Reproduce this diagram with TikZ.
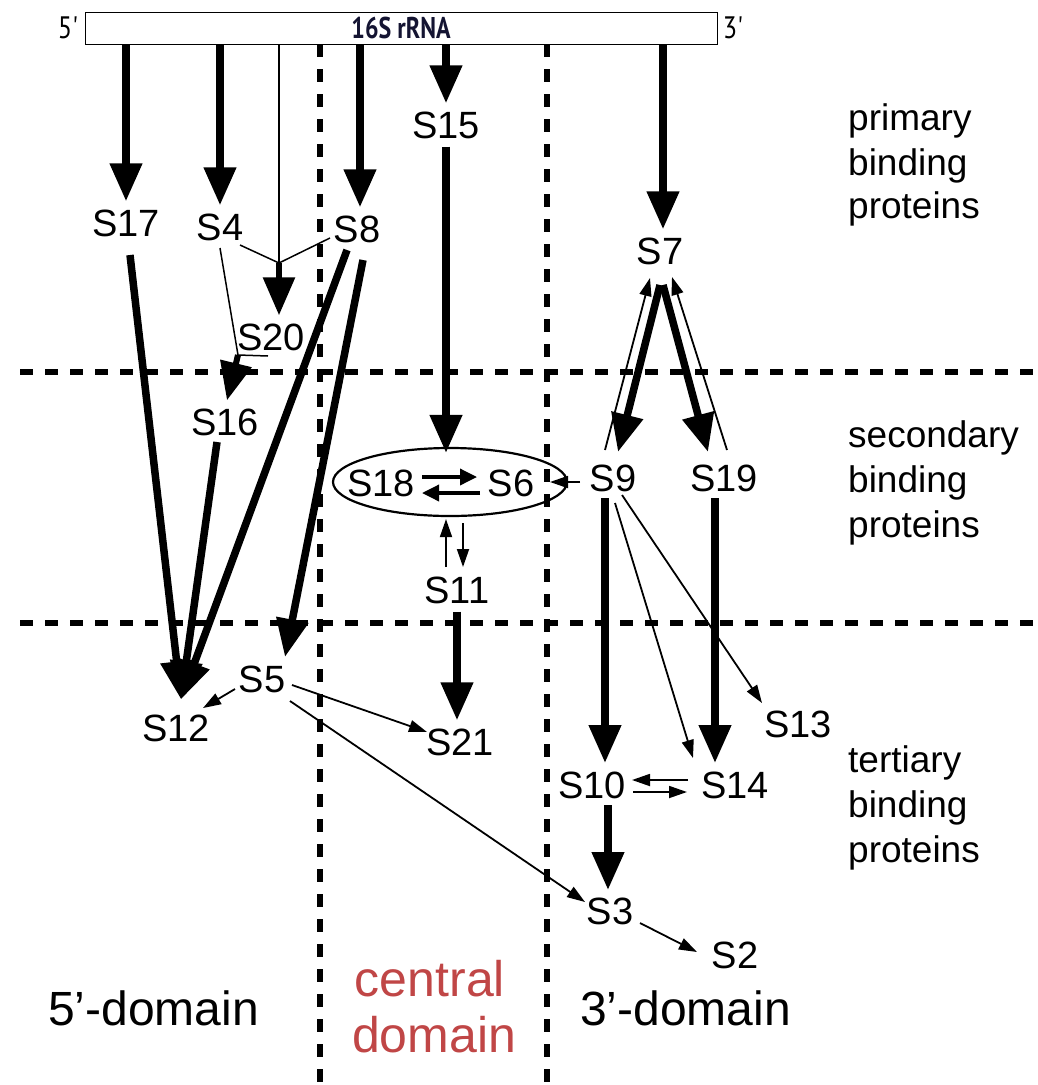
\documentclass[tikz,border=0pt]{standalone}
\usepackage{fontspec}
\setmainfont{Liberation Sans}
\newfontfamily\barfont{PT Sans}
\usetikzlibrary{arrows.meta,calc,shapes.geometric}
\definecolor{domred}{RGB}{192,70,70}
\definecolor{navy}{RGB}{20,20,50}
\begin{document}
\begin{tikzpicture}[x=1pt,y=-1pt,
  lab/.style={font=\fontsize{38}{40}\selectfont, inner xsep=3pt, inner ysep=8pt, text height=27pt, text depth=0pt},
  side/.style={font=\fontsize{37}{40}\selectfont, inner sep=0pt, anchor=base west},
  big/.style={line width=7.5pt, -{Triangle[length=38pt,width=31pt]}},
  small/.style={line width=1.8pt, -{Triangle[length=18pt,width=12pt]}},
  mid/.style={line width=3.5pt, -{Triangle[length=17pt,width=16pt]}},
  fine/.style={line width=1.5pt},
  dline/.style={line width=5.5pt, dash pattern=on 13pt off 12pt},
]
\useasboundingbox (0,0) rectangle (1038,1085);
% domain / level separators
\draw[dline] (320,44) -- (320,1085);
\draw[dline] (547,44) -- (547,1085);
\draw[dline] (20,372) -- (1038,372);
\draw[dline] (20,623) -- (1038,623);

% rRNA bar
\node[draw, line width=1pt, minimum width=632pt, minimum height=32pt, inner sep=0pt, text=navy] (bar) at (401,28)
  {\scalebox{0.8}[1]{\barfont\bfseries\fontsize{30}{30}\selectfont 16S rRNA}};
\node[inner sep=0pt] (p5) at (68,28) {\scalebox{0.85}[1]{\barfont\fontsize{31}{31}\selectfont 5\textquotesingle}};
\node[inner sep=0pt] (p3) at (733,28) {\scalebox{0.85}[1]{\barfont\fontsize{31}{31}\selectfont 3\textquotesingle}};

% proteins
\node[lab] (S17) at (126,223) {S17};
\node[lab] (S4) at (220,227) {S4};
\node[lab] (S8) at (357,229) {S8};
\node[lab] (S15) at (446,125) {S15};
\node[lab] (S7) at (660,251) {S7};
\node[lab] (S20) at (271,337) {S20};
\node[lab] (S16) at (225,422) {S16};
\node[lab] (S18) at (381,483) {S18};
\node[lab] (S6) at (511,483) {S6};
\node[lab] (S9) at (613,478) {S9};
\node[lab] (S19) at (724,478) {S19};
\node[lab] (S11) at (457,590) {S11};
\node[lab] (S12) at (176,728) {S12};
\node[lab] (S5) at (262,679) {S5};
\node[lab] (S21) at (460,742) {S21};
\node[lab] (S13) at (798,724) {S13};
\node[lab] (S10) at (592,785) {S10};
\node[lab] (S14) at (735,785) {S14};
\node[lab] (S3) at (610,911) {S3};
\node[lab] (S2) at (735,955) {S2};
\node[draw, ellipse, line width=2.2pt, minimum width=234pt, minimum height=68pt, inner sep=0pt] (E) at (450,482) {};

% primary binding
\draw[big] (bar.south -| S17) -- (S17.north);
\draw[big] (bar.south -| S4) -- (S4.north);
\draw[big] ($(bar.south -| S8)+(3,0)$) -- ($(S8.north)+(3,0)$);
\draw[big] (bar.south -| S15) -- (S15.north);
\draw[big] ($(bar.south -| S7)+(3,0)$) -- ($(S7.north)+(3,0)$);

% S20 and S16 junctions
\coordinate (J) at (279,263);
\coordinate (K) at (238,355);
\draw[fine] (bar.south -| J) -- (J);
\draw[fine] ($(S4)+(20,18)$) -- (J);
\draw[fine] ($(S8)+(-27,9)$) -- (J);
\draw[big, line width=6pt] (J) -- (J |- S20.north);
\draw[fine] ($(S4)+(0,21)$) -- (K);
\draw[fine] ($(S20)+(-3,19)$) -- (K);
\draw[big, line width=6pt] (K) -- ($(S16.north)+(2,0)$);

% into S12 and S5
\coordinate (T12) at ($(S12.north)+(5,-7)$);
\draw[big] ($(S17)+(4,32)$) -- (T12);
\draw[big] ($(S16)+(-8,20)$) -- (T12);
\draw[big] ($(S8)+(-10,21)$) -- (T12);
\draw[big] ($(S8)+(6,31)$) -- ($(S5)+(23,-22)$);

% central domain
\draw[big] (S15.south) -- ($(S15.south |- E.north)+(0,6)$);
\draw[mid] ($(S18)+(41,-6)$) -- ($(S6)+(-34,-6)$);
\draw[mid] ($(S6)+(-31,10)$) -- ($(S18)+(41,10)$);
\draw[small] ($(S9)+(-33,4)$) -- ($(S6)+(39,-1)$);
\draw[small] ($(S11)+(-11,-23)$) -- ($(E.south)+(-4,2)$);
\draw[small] ($(E.south)+(13,6)$) -- ($(S11)+(6,-23)$);
\draw[big] (S11.south) -- (S11.south |- S21.north);

% 3' domain
\draw[big] ($(S7)+(0,34)$) -- ($(S9)+(5,-26)$);
\draw[big] ($(S7)+(3,34)$) -- ($(S19)+(-16,-26)$);
\draw[small] ($(S9)+(-8,-28)$) -- ($(S7)+(-10,27)$);
\draw[small] ($(S19)+(3,-28)$) -- ($(S7)+(12,26)$);
\draw[big] ($(S9)+(-8,20)$) -- ($(S10)+(13,-22)$);
\draw[big] ($(S19)+(-9,20)$) -- ($(S14)+(-20,-22)$);
\draw[small] ($(S9)+(2,25)$) -- ($(S14)+(-42,-27)$);
\draw[small] ($(S9)+(9,17)$) -- ($(S13)+(-36,-21)$);
\draw[small] ($(S14)+(-47,-5)$) -- ($(S10)+(40,-5)$);
\draw[small] ($(S10)+(41,7)$) -- ($(S14)+(-48,7)$);
\draw[big] ($(S10)+(16,20)$) -- ($(S3)+(-2,-21)$);

% tertiary from S5 and S3
\draw[small] ($(S5)+(-27,10)$) -- ($(S12)+(27,-20)$);
\draw[small] ($(S5)+(30,6)$) -- ($(S21)+(-33,-10)$);
\draw[small] ($(S5)+(28,22)$) -- ($(S3)+(-25,-9)$);
\draw[small] ($(S3)+(30,12)$) -- ($(S2)+(-38,-3)$);

% side labels
\node[side] (a1) at (848,130) {primary};
\node[side] (a2) at (848,175) {binding};
\node[side] (a3) at (848,218) {proteins};
\node[side] (b1) at (848,447) {secondary};
\node[side] (b2) at (848,492) {binding};
\node[side] (b3) at (848,537) {proteins};
\node[side] (c1) at (848,772) {tertiary};
\node[side] (c2) at (848,817) {binding};
\node[side] (c3) at (848,862) {proteins};

% domain labels
\node[font=\fontsize{48}{50}\selectfont, anchor=base west, inner sep=0pt] (d5) at (48,1025) {5’-domain};
\node[font=\fontsize{48}{50}\selectfont, anchor=base west, inner sep=0pt] (d3) at (580,1025) {3’-domain};
\node[font=\fontsize{50}{52}\selectfont, text=domred, anchor=base, inner sep=0pt] (dc1) at (430,996) {central};
\node[font=\fontsize{50}{52}\selectfont, text=domred, anchor=base, inner sep=0pt] (dc2) at (434,1052) {domain};
\end{tikzpicture}
\end{document}
